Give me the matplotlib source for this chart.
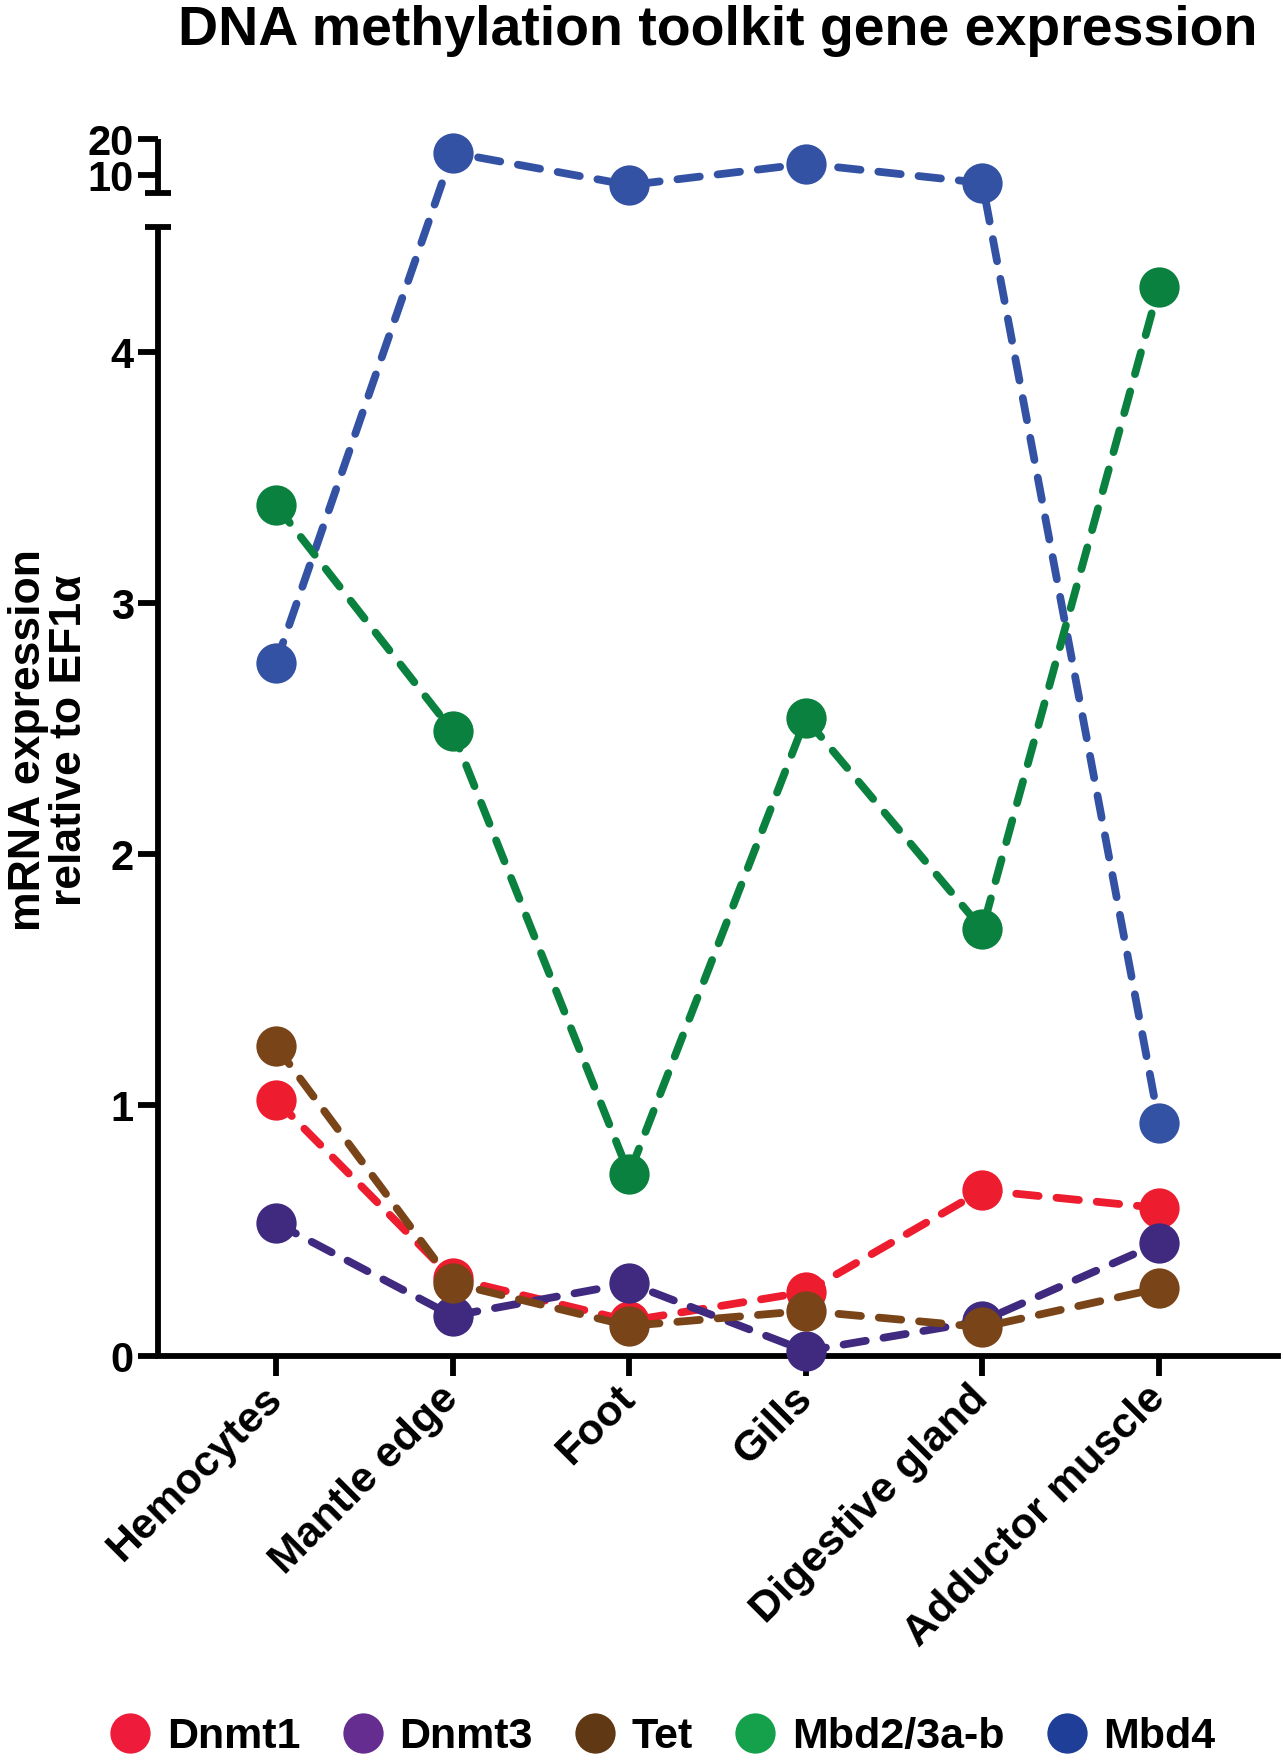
import numpy as np
import matplotlib.pyplot as plt
from matplotlib.lines import Line2D

plt.rcParams['font.family'] = ['Liberation Sans', 'DejaVu Sans']
plt.rcParams['font.weight'] = 'bold'

tissues = ['Hemocytes', 'Mantle edge', 'Foot', 'Gills', 'Digestive gland', 'Adductor muscle']
genes = ['Dnmt1', 'Dnmt3', 'Tet', 'Mbd2/3a-b', 'Mbd4']

dnmt1 = [1.02, 0.31, 0.14, 0.255, 0.66, 0.59]
dnmt3 = [0.53, 0.16, 0.29, 0.02, 0.14, 0.45]
tet = [1.235, 0.29, 0.12, 0.18, 0.115, 0.27]
mbd2 = [3.39, 2.49, 0.725, 2.54, 1.70, 4.26]
mbd4 = [2.76, 16.2, 7.2, 13.1, 7.8, 0.93]

line_colors = ['#ED1C2E', '#3F2A80', '#7A4419', '#0B8140', '#3452A4']
legend_colors = ['#EE1B3A', '#662D91', '#603813', '#15A04B', '#1F3E97']

# segmented y axis (Prism style): 0-4.5 below, 5-20 squeezed above a gap
lo_top, hi_bot = 4.5, 5.0
gap = 0.1335
hi_slope = 0.01434


def fwd(v):
    v = np.asarray(v, dtype=float)
    mid = lo_top + (v - lo_top) * gap / (hi_bot - lo_top)
    hi = lo_top + gap + (v - hi_bot) * hi_slope
    return np.where(v <= lo_top, v, np.where(v >= hi_bot, hi, mid))


def inv(t):
    t = np.asarray(t, dtype=float)
    mid = lo_top + (t - lo_top) * (hi_bot - lo_top) / gap
    hi = hi_bot + (t - lo_top - gap) / hi_slope
    return np.where(t <= lo_top, t, np.where(t >= lo_top + gap, hi, mid))


fig = plt.figure(figsize=(12.83, 17.62), dpi=100)
ax = fig.add_axes([0.1231, 0.2304, 0.873, 0.6907])
ax.set_yscale('function', functions=(fwd, inv))

x = np.arange(len(tissues))
series = [dnmt1, dnmt3, tet, mbd2, mbd4]
order = [4, 3, 0, 1, 2]
for i in order:
    ax.plot(x, series[i], color=line_colors[i], lw=5.6, ls=(0, (2.9, 2.3)),
            dash_capstyle='round', marker='o', ms=29, mew=0, zorder=3,
            clip_on=False)

ax.set_xlim(-0.668, 5.674)
ax.set_ylim(0, 20)

for s in ['top', 'right', 'left']:
    ax.spines[s].set_visible(False)
ax.spines['bottom'].set_linewidth(4.2)

# broken left axis
x0 = ax.get_xlim()[0]
ax.plot([x0, x0], [0, lo_top], color='k', lw=4.2, solid_capstyle='butt', clip_on=False, zorder=4)
ax.plot([x0, x0], [hi_bot, 20], color='k', lw=4.2, solid_capstyle='butt', clip_on=False, zorder=4)
tr = ax.get_yaxis_transform()
for yv in [lo_top, hi_bot]:
    ax.plot([-0.0116, 0.0116], [yv, yv], color='k', lw=4.2, transform=tr,
            solid_capstyle='butt', clip_on=False, zorder=4)

ax.set_yticks([0, 1, 2, 3, 4, 10, 20])
ax.set_yticklabels(['0', '1', '2', '3', '4', '10', '20'])
ax.set_xticks(x)
ax.set_xticklabels(tissues, rotation=45, ha='right', va='center', rotation_mode='anchor')
ax.tick_params(axis='y', length=14.4, width=4.2, labelsize=30, pad=3)
ax.tick_params(axis='x', length=14.4, width=4.2, labelsize=31, pad=12)
ax.minorticks_off()

fig.text(0.5596, 1 - 45 / 1762, 'DNA methylation toolkit gene expression',
         fontsize=40, fontweight='bold', ha='center', va='baseline')
fig.text(0.038, 1 - 740 / 1762, 'mRNA expression\nrelative to EF1\u03b1', fontsize=32,
         fontweight='bold', rotation=90, ha='center', va='center',
         multialignment='center', linespacing=1.0)

handles = [Line2D([], [], ls='none', marker='o', ms=29, mew=0, color=c) for c in legend_colors]
fig.legend(handles, genes, loc='center', bbox_to_anchor=(662 / 1283, 1 - 1737 / 1762),
           ncol=5, frameon=False, fontsize=31, handletextpad=0.35, columnspacing=0.95,
           handlelength=1.0, borderaxespad=0)

fig.savefig('out.png', dpi=100)
